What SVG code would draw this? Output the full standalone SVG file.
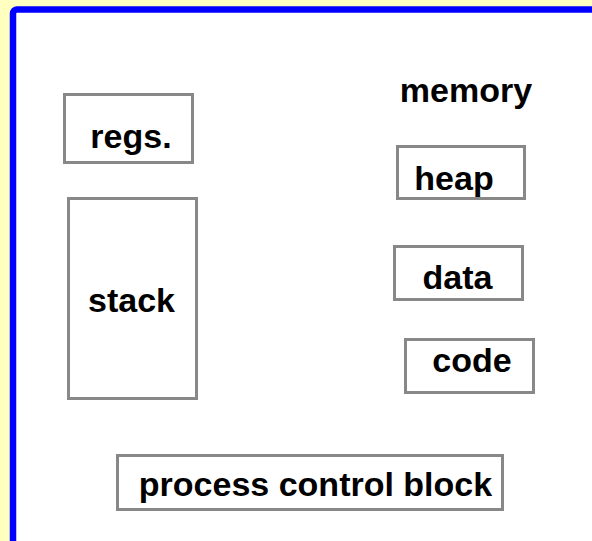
<svg xmlns="http://www.w3.org/2000/svg" width="592" height="541" viewBox="0 0 592 541">
  <style>
    .box { fill: #ffffff; stroke: #888888; stroke-width: 3; }
    .lbl { font-family: "Liberation Sans", Arial, sans-serif; font-weight: bold; font-size: 34px; fill: #000000; text-anchor: middle; }
  </style>
  <!-- page background and frame -->
  <rect x="0" y="0" width="592" height="541" fill="#ffffc0"/>
  <rect x="13" y="9.5" width="600" height="560" rx="4" fill="#ffffff" stroke="#0000ff" stroke-width="6.5"/>

  <text class="lbl" x="466" y="102">memory</text>

  <g id="regs">
    <rect class="box" x="64.5" y="94.5" width="128" height="68"/>
    <text class="lbl" x="131" y="148">regs.</text>
  </g>
  <g id="stack">
    <rect class="box" x="68.5" y="198.5" width="128" height="200"/>
    <text class="lbl" x="131.5" y="312">stack</text>
  </g>
  <g id="heap">
    <rect class="box" x="397.5" y="146.5" width="127" height="52"/>
    <text class="lbl" x="454" y="190">heap</text>
  </g>
  <g id="data">
    <rect class="box" x="394.5" y="246.5" width="128" height="53"/>
    <text class="lbl" x="457.5" y="289">data</text>
  </g>
  <g id="code">
    <rect class="box" x="405.5" y="339.5" width="128" height="53"/>
    <text class="lbl" x="472" y="372">code</text>
  </g>
  <g id="pcb">
    <rect class="box" x="117.5" y="455.5" width="385" height="54"/>
    <text class="lbl" x="315.5" y="496">process control block</text>
  </g>
  <g id="connectors"></g>
</svg>
